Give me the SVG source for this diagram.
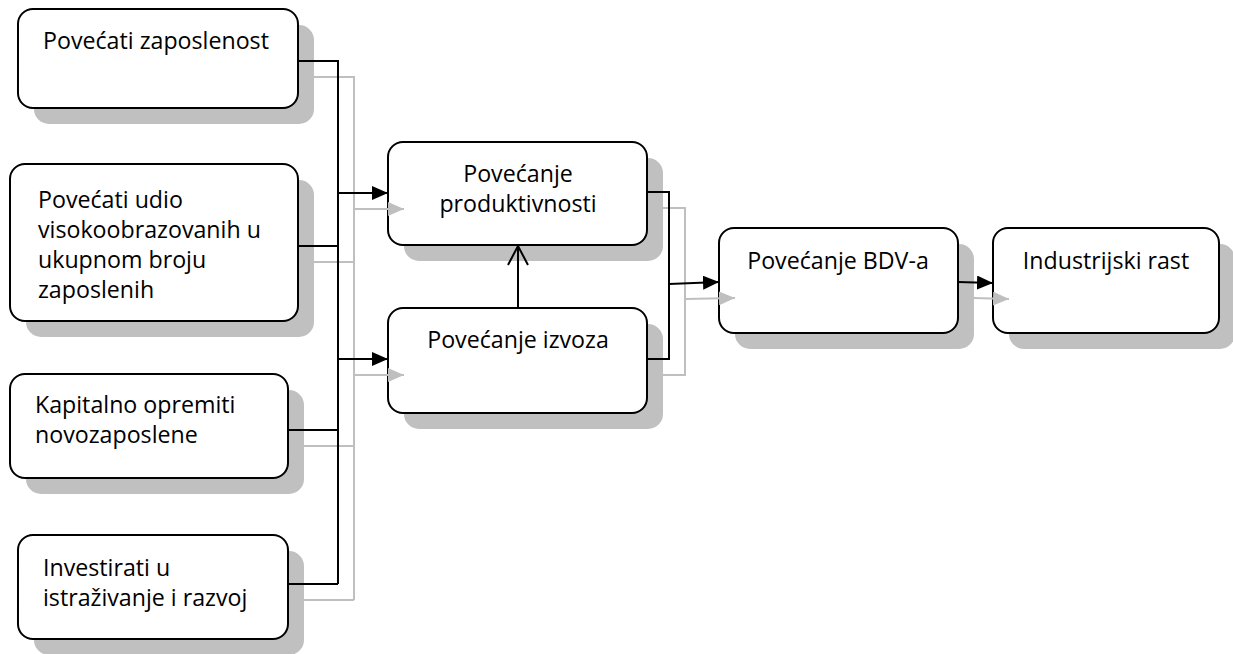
<svg xmlns="http://www.w3.org/2000/svg" width="1233" height="654" viewBox="0 0 1233 654">
<defs>
<style>
.sh{fill:#c0c0c0;stroke:none}
.bx{fill:#ffffff;stroke:#000000;stroke-width:2}
.t{font-family:"Open Sans","Noto Sans",sans-serif;font-size:23.2px;fill:#000000}
.c{text-anchor:middle}
.k{fill:none;stroke:#000000;stroke-width:2}
.g{fill:none;stroke:#bfbfbf;stroke-width:2}
</style>
<marker id="ak" viewBox="0 0 16 14" refX="16" refY="7" markerWidth="16" markerHeight="14" markerUnits="userSpaceOnUse" orient="auto">
<path d="M0,0 L16,7 L0,14 Z" fill="#000000"/>
</marker>
<marker id="ag" viewBox="0 0 16 14" refX="16" refY="7" markerWidth="16" markerHeight="14" markerUnits="userSpaceOnUse" orient="auto">
<path d="M0,0 L16,7 L0,14 Z" fill="#bfbfbf"/>
</marker>
<marker id="ao" viewBox="0 0 22 22" refX="20" refY="11" markerWidth="22" markerHeight="22" markerUnits="userSpaceOnUse" orient="auto">
<path d="M1,1 L20,11 L1,21" fill="none" stroke="#000000" stroke-width="2"/>
</marker>
</defs>
<rect width="1233" height="654" fill="#ffffff"/>
<g id="shadows">
<rect class="sh" x="34" y="25" width="280" height="99" rx="15"/>
<rect class="sh" x="26" y="180" width="288" height="157" rx="15"/>
<rect class="sh" x="26" y="390" width="278" height="104" rx="15"/>
<rect class="sh" x="34" y="551" width="270" height="104" rx="15"/>
<rect class="sh" x="404" y="158" width="259" height="103" rx="15"/>
<rect class="sh" x="404" y="324" width="259" height="105" rx="15"/>
<rect class="sh" x="735" y="244" width="239" height="105" rx="15"/>
<rect class="sh" x="1009" y="244" width="226" height="105" rx="15"/>
</g>
<g id="n1">
<rect class="bx" x="18" y="9" width="280" height="99" rx="15"/>
<text class="t" x="43" y="49">Povećati zaposlenost</text>
</g>
<g id="n2">
<rect class="bx" x="10" y="164" width="288" height="157" rx="15"/>
<text class="t" x="38" y="208">Povećati udio</text>
<text class="t" x="38" y="238">visokoobrazovanih u</text>
<text class="t" x="38" y="268">ukupnom broju</text>
<text class="t" x="38" y="298">zaposlenih</text>
</g>
<g id="n3">
<rect class="bx" x="10" y="374" width="278" height="104" rx="15"/>
<text class="t" x="35" y="413">Kapitalno opremiti</text>
<text class="t" x="35" y="443">novozaposlene</text>
</g>
<g id="n4">
<rect class="bx" x="18" y="535" width="270" height="104" rx="15"/>
<text class="t" x="43" y="576">Investirati u</text>
<text class="t" x="43" y="606">istraživanje i razvoj</text>
</g>
<g id="n5">
<rect class="bx" x="388" y="142" width="259" height="103" rx="15"/>
<text class="t c" x="518" y="182">Povećanje</text>
<text class="t c" x="518" y="212">produktivnosti</text>
</g>
<g id="n6">
<rect class="bx" x="388" y="308" width="259" height="105" rx="15"/>
<text class="t c" x="518" y="348">Povećanje izvoza</text>
</g>
<g id="n7">
<rect class="bx" x="719" y="228" width="239" height="105" rx="15"/>
<text class="t c" x="838" y="269">Povećanje BDV-a</text>
</g>
<g id="n8">
<rect class="bx" x="993" y="228" width="226" height="105" rx="15"/>
<text class="t c" x="1106" y="269">Industrijski rast</text>
</g>
<g id="connectors">
<path class="g" d="M314,77 H354 V600 M314,262 H354 M304,446 H354 M304,600 H354"/>
<path class="g" d="M354,209 H404" marker-end="url(#ag)"/>
<path class="g" d="M354,375 H404" marker-end="url(#ag)"/>
<path class="g" d="M663,208 H685 V375 H663"/>
<path class="g" d="M685,299 L735,298" marker-end="url(#ag)"/>
<path class="g" d="M974,298 L1009,299" marker-end="url(#ag)"/>
<path class="k" d="M298,61 H338 V584 M298,246 H338 M288,430 H338 M288,584 H338"/>
<path class="k" d="M338,193 H388" marker-end="url(#ak)"/>
<path class="k" d="M338,359 H388" marker-end="url(#ak)"/>
<path class="k" d="M647,192 H669 V359 H647"/>
<path class="k" d="M669,284 L719,282" marker-end="url(#ak)"/>
<path class="k" d="M958,282 L993,283" marker-end="url(#ak)"/>
<path class="k" d="M518,308 V246" marker-end="url(#ao)"/>
</g>
</svg>
